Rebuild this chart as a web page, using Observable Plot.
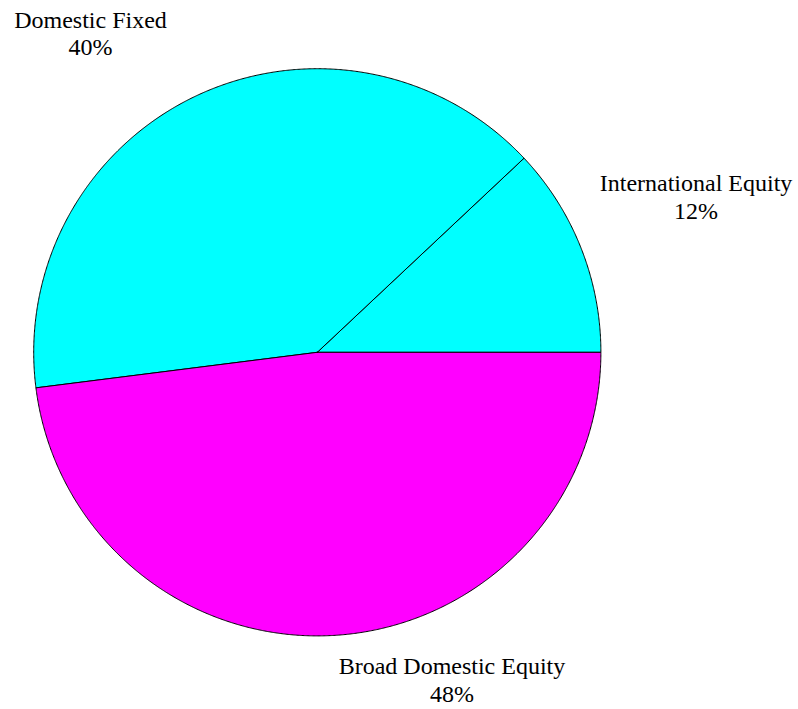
<!DOCTYPE html>
<html>
<head>
<meta charset="utf-8">
<script src="https://cdn.jsdelivr.net/npm/d3@7"></script>
<script src="https://cdn.jsdelivr.net/npm/@observablehq/plot@0.6"></script>
<style>
  html, body { margin: 0; padding: 0; background: #fff; }
  #chart svg { display: block; }
</style>
</head>
<body>
<div id="chart"></div>
<script>
// ---- data ----
const categories = ["International Equity", "Domestic Fixed", "Broad Domestic Equity"];
const shares = [12, 40, 48];
const percentLabels = ["12%", "40%", "48%"];
const sliceColors = ["#00ffff", "#00ffff", "#ff00ff"];

// ---- layout ----
const W = 798, H = 709;
const cx = 316.8, cy = 351.8, R = 283.6;
const labelRadius = 1.07;
// per-label nudges (px) applied after anchoring at the slice's mid-angle
const labelNudge = [[96.6, -22], [-97.6, -23], [115.6, 0]];

// ---- geometry from data (angles counter-clockwise from 3 o'clock) ----
const total = d3.sum(shares);
let acc = 0;
const slices = categories.map((name, i) => {
  const a0 = acc / total * 2 * Math.PI;
  acc += shares[i];
  const a1 = acc / total * 2 * Math.PI;
  return {name, i, a0, a1, mid: (a0 + a1) / 2};
});

const outline = [];
for (const s of slices) {
  outline.push({name: s.name, x: 0, y: 0});
  const n = Math.max(2, Math.ceil((s.a1 - s.a0) / (Math.PI / 720)));
  for (let k = 0; k <= n; k++) {
    const a = s.a0 + (s.a1 - s.a0) * k / n;
    outline.push({name: s.name, x: Math.cos(a), y: Math.sin(a)});
  }
  outline.push({name: s.name, x: 0, y: 0});
}

const labels = slices.map(s => {
  const c = Math.cos(s.mid), sn = Math.sin(s.mid);
  return {
    name: s.name,
    text: s.name + "\n" + percentLabels[s.i],
    x: labelRadius * c,
    y: labelRadius * sn,
    up: sn >= 0,
    dx: labelNudge[s.i][0],
    dy: labelNudge[s.i][1]
  };
});

const chart = Plot.plot({
  width: W,
  height: H,
  margin: 0,
  style: {background: "#fff", overflow: "visible"},
  x: {domain: [-1, 1], range: [cx - R, cx + R], axis: null},
  y: {domain: [-1, 1], range: [cy + R, cy - R], axis: null},
  color: {domain: categories, range: sliceColors},
  marks: [
    Plot.line(outline, {
      x: "x", y: "y", z: "name",
      fill: "name",
      stroke: "black",
      strokeWidth: 1,
      curve: "linear-closed"
    }),
    ...labels.map(l => Plot.text([l], {
      x: "x", y: "y", text: "text",
      textAnchor: "middle",
      lineAnchor: l.up ? "bottom" : "top",
      dx: l.dx, dy: l.dy,
      fontSize: 24,
      lineHeight: 1.13,
      fontFamily: "Liberation Serif, Times New Roman, serif",
      fill: "black"
    }))
  ]
});

document.getElementById("chart").appendChild(chart);
</script>
</body>
</html>
